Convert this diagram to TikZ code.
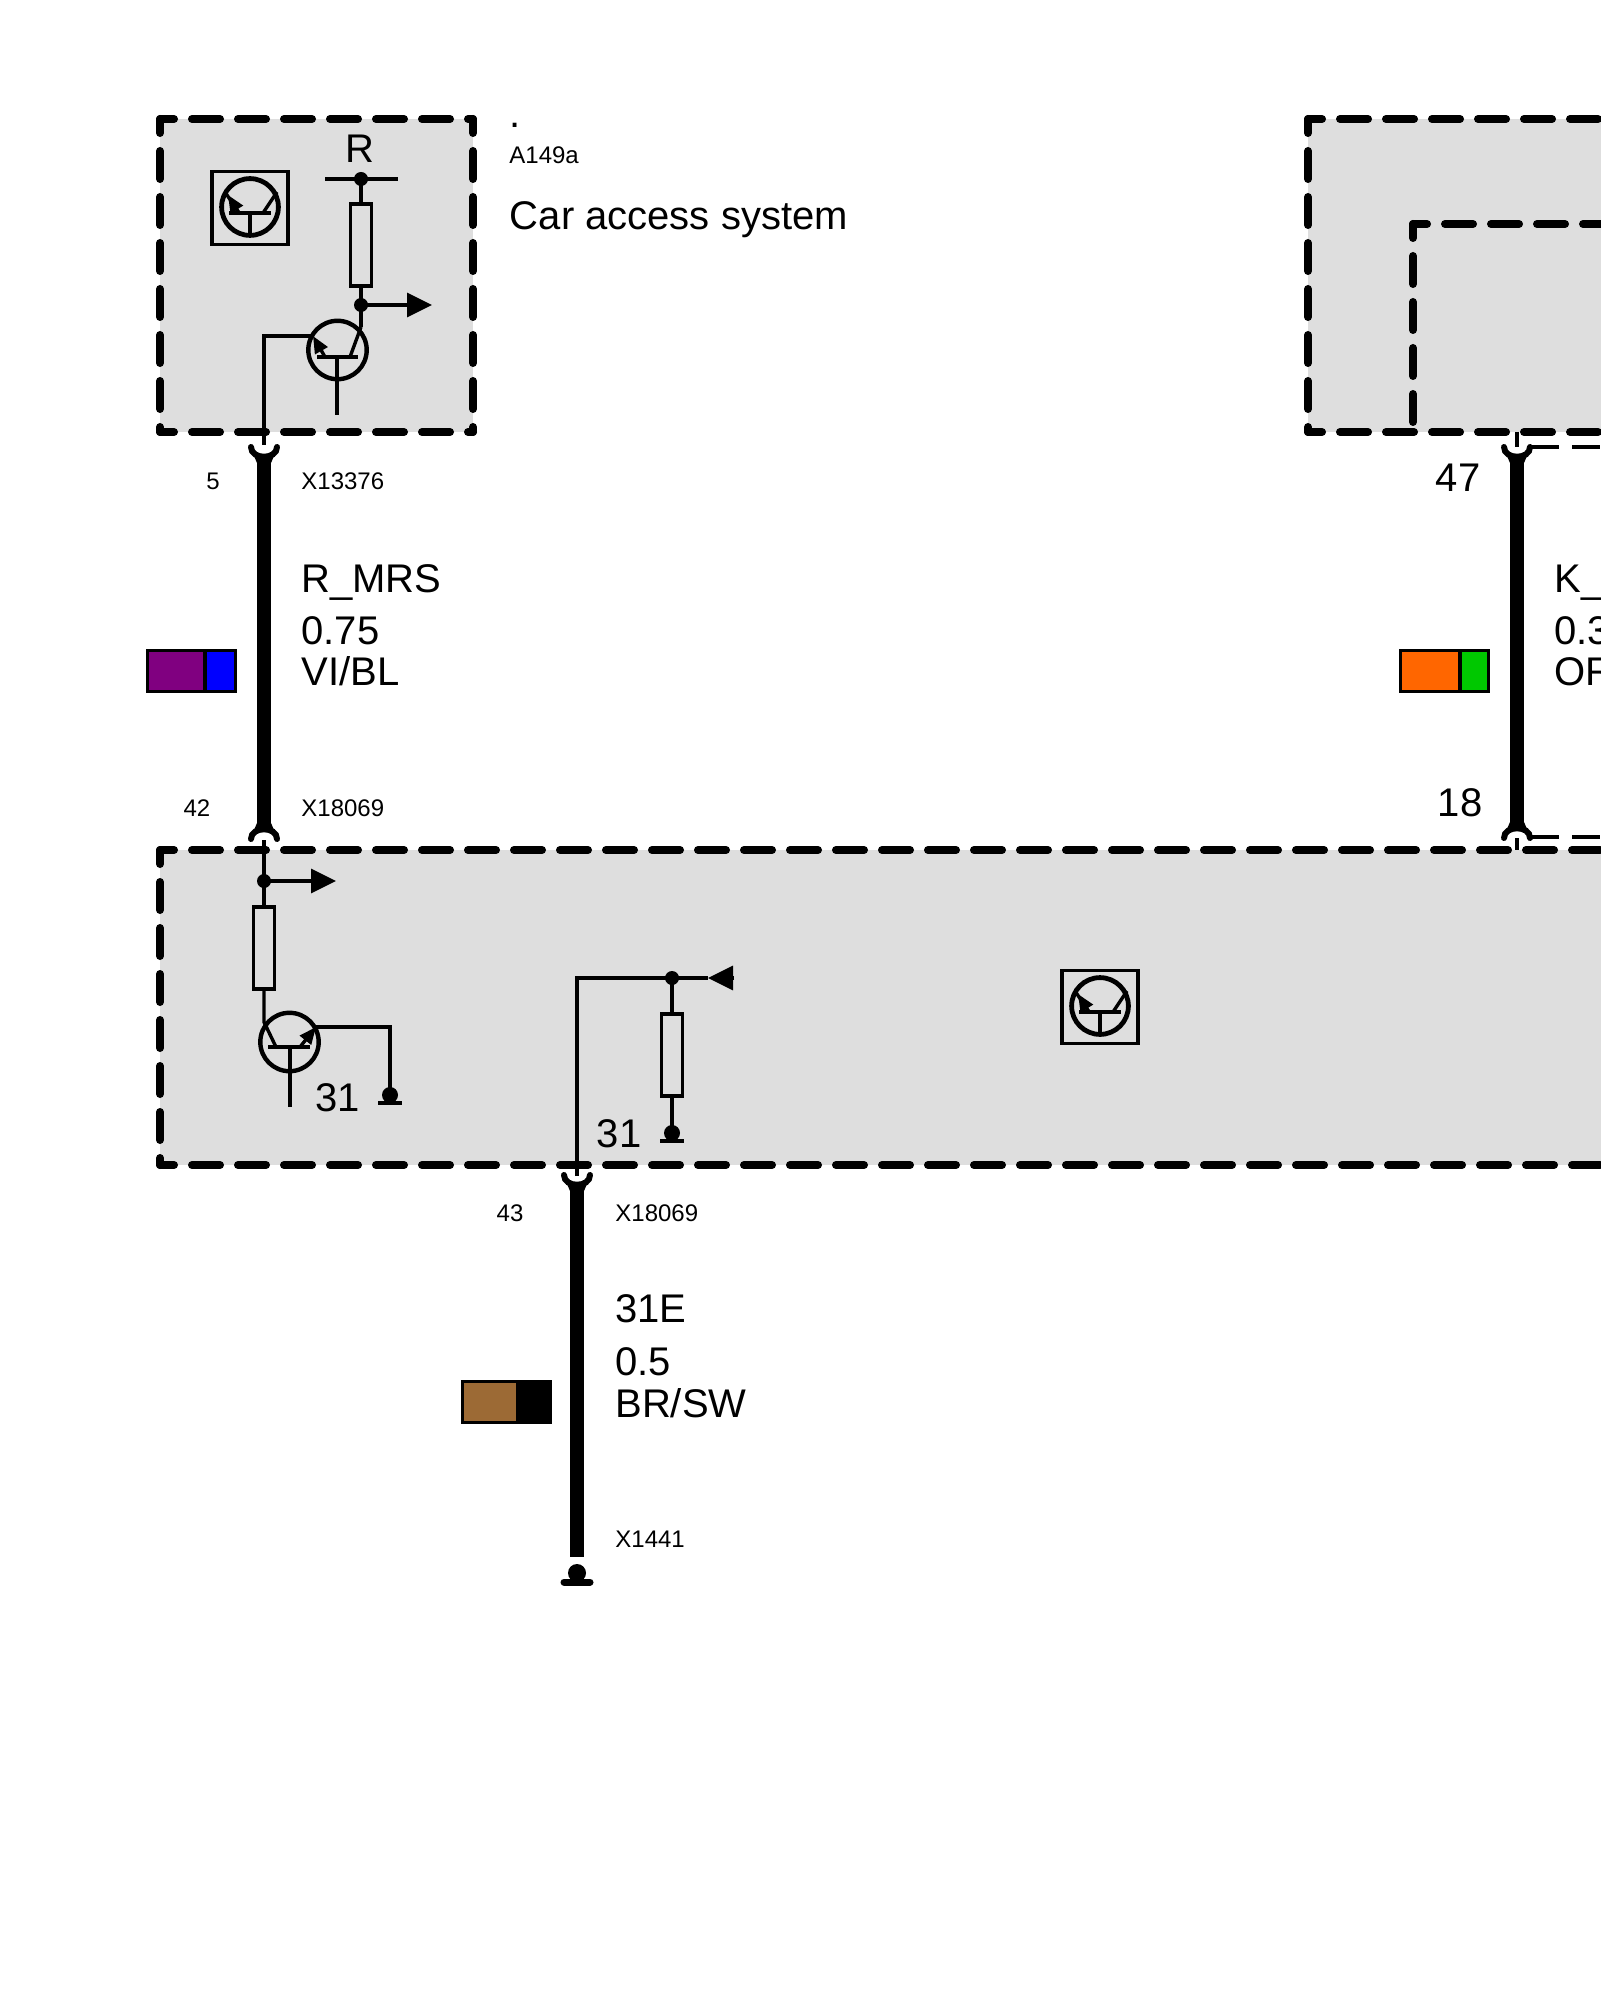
\documentclass[tikz,border=0pt]{standalone}
\usepackage{fontspec}
\setmainfont{Liberation Sans}
\usetikzlibrary{arrows.meta}
\definecolor{unitgray}{HTML}{DEDEDE}
\definecolor{wirevi}{HTML}{800080}
\definecolor{wirebl}{HTML}{0000FF}
\definecolor{wireor}{HTML}{FF6600}
\definecolor{wiregn}{HTML}{00C800}
\definecolor{wirebr}{HTML}{9C6A35}
\tikzset{
  unitline/.style={line width=4pt,line cap=round,dash pattern=on 14pt off 9pt,dash phase=7pt},
  wire/.style={line width=1.7pt},
  harness/.style={line width=7pt},
  cup/.style={line width=3pt,line cap=round},
  linkline/.style={line width=1.7pt,dash pattern=on 14pt off 6.5pt},
  resistor/.style={draw,fill=unitgray,line width=1.7pt,minimum width=10.5pt,minimum height=41pt,inner sep=0pt},
  jdot/.style={circle,fill=black,inner sep=0pt,minimum size=7pt},
  gdot/.style={circle,fill=black,inner sep=0pt,minimum size=8pt},
  swatch/.style={draw,line width=1.6pt,minimum height=20.5pt,inner sep=0pt},
  biglbl/.style={anchor=base west,inner sep=0pt,font=\fontsize{20}{24}\selectfont},
  pinlbl/.style={anchor=base west,inner sep=0pt,font=\fontsize{12}{14}\selectfont},
  numlbl/.style={anchor=base,inner sep=0pt,font=\fontsize{12}{14}\selectfont},
  bignum/.style={anchor=base,inner sep=0pt,font=\fontsize{20}{24}\selectfont},
  bigtip/.style={-{Triangle[length=12.5pt,width=12pt]}},
  smalltip/.style={-{Triangle[length=8.5pt,width=7pt]}}
}
\begin{document}
\begin{tikzpicture}[x=0.5pt,y=-0.5pt]
  \useasboundingbox (0,0) rectangle (1600,2000);

  % units
  \fill[unitgray] (160,119) rectangle (473,432);
  \fill[unitgray] (1308,119) rectangle (1620,432);
  \fill[unitgray] (160,850) rectangle (1620,1165);
  \draw[unitline] (160,119) -- (473,119);
  \draw[unitline] (160,119) -- (160,432);
  \draw[unitline] (473,119) -- (473,432);
  \draw[unitline] (160,432) -- (473,432);
  \draw[unitline] (1308,119) -- (1620,119);
  \draw[unitline] (1308,119) -- (1308,432);
  \draw[unitline] (1308,432) -- (1620,432);
  \draw[unitline] (1413,224) -- (1620,224);
  \draw[unitline] (1413,224) -- (1413,432);
  \draw[unitline] (160,850) -- (1620,850);
  \draw[unitline] (160,850) -- (160,1165);
  \draw[unitline] (160,1165) -- (1620,1165);

  % transistor icons
  \foreach \ix/\iy in {250/208,1100/1007} {
    \begin{scope}[shift={(\ix,\iy)}]
      \draw[line width=1.7pt] (-38,-36.5) rectangle (38,36.5);
      \draw[line width=2.4pt] (0,-1) circle[radius=14.2pt];
      \draw[wire] (-21,5) -- (21,5) (0,5) -- (0,29);
      \draw[wire] (-25,-16) -- (-11,5) (27,-16) -- (13,5);
      \draw[wire,smalltip] (-11,5) -- (-22,-13);
    \end{scope}
  }

  % car access system
  \coordinate (busl) at (325,179);
  \coordinate (busr) at (398,179);
  \node[jdot] (busdot) at (361,179) {};
  \node[resistor] (rcas) at (361,245) {};
  \node[jdot] (casdot) at (361,305) {};
  \coordinate (castip) at (432,305);
  \coordinate (cascoll) at (361,327);
  \coordinate (casbar) at (337,357);
  \coordinate (casemit) at (313,336);
  \coordinate (casturn) at (264,336);
  \coordinate (pinfive) at (264,445);
  \draw[wire] (busl) -- (busr);
  \draw[wire] (busdot.center) -- (rcas.north);
  \draw[wire] (rcas.south) -- (casdot.center) -- (cascoll);
  \draw[wire,bigtip] (casdot.center) -- (castip);
  \draw[line width=2.2pt] (337.5,350) circle[radius=14.6pt];
  \draw[wire] (317,357) -- (358,357) (casbar) -- (337,415);
  \draw[wire] (cascoll) -- (350,357);
  \draw[wire,smalltip] (325,357) -- (casemit);
  \draw[wire] (casemit) -- (casturn) -- (pinfive);

  % connector cups
  \foreach \px/\py in {264/447,577/1175,1517/447} {
    \begin{scope}[shift={(\px,\py)}]
      \draw[cup] (-13,0) .. controls (-13,13) and (13,13) .. (13,0);
      \fill (-10,9) -- (10,9) -- (7,16) -- (-7,16) -- cycle;
    \end{scope}
  }
  \foreach \px/\py in {264/839,1517/838} {
    \begin{scope}[shift={(\px,\py)}]
      \draw[cup] (-13,0) .. controls (-13,-13) and (13,-13) .. (13,0);
      \fill (-10,-9) -- (10,-9) -- (7,-16) -- (-7,-16) -- cycle;
    \end{scope}
  }

  % wire R_MRS
  \coordinate (mrstop) at (264,460);
  \coordinate (mrsbot) at (264,825);
  \draw[harness] (mrstop) -- (mrsbot);

  % lower unit, left branch
  \coordinate (pinftwo) at (264,840);
  \node[jdot] (mrsdot) at (264,881) {};
  \coordinate (mrstip) at (336,881);
  \node[resistor] (rlow) at (264,948) {};
  \coordinate (lowcoll) at (264,1022);
  \coordinate (lowemit) at (316,1027);
  \coordinate (lowturn) at (390,1027);
  \node[gdot] (gndone) at (390,1095) {};
  \draw[wire] (pinftwo) -- (mrsdot.center) -- (rlow.north);
  \draw[wire,bigtip] (mrsdot.center) -- (mrstip);
  \draw[wire] (rlow.south) -- (lowcoll) -- (276,1047);
  \draw[line width=2.2pt] (289.5,1042) circle[radius=14.6pt];
  \draw[wire] (268,1047) -- (310,1047) (290,1047) -- (290,1107);
  \draw[wire,smalltip] (300,1047) -- (lowemit);
  \draw[wire] (lowemit) -- (lowturn) -- (gndone.center);
  \draw[line width=2.2pt] (378,1103) -- (402,1103);
  \node[bignum] (numone) at (337.5,1111) {31};

  % lower unit, right branch
  \coordinate (turnlow) at (577,978);
  \coordinate (pinfthree) at (577,1176);
  \node[jdot] (lowdot) at (672,978) {};
  \coordinate (inbase) at (734,978);
  \coordinate (intip) at (708,978);
  \node[resistor] (rpull) at (672,1055) {};
  \node[gdot] (gndtwo) at (672,1133) {};
  \draw[wire] (pinfthree) -- (turnlow) -- (lowdot.center) -- (rpull.north);
  \draw[wire] (lowdot.center) -- (intip);
  \draw[wire,bigtip] (inbase) -- (intip);
  \draw[wire] (rpull.south) -- (gndtwo.center);
  \draw[line width=2.2pt] (660,1141) -- (684,1141);
  \node[bignum] (numtwo) at (619,1147) {31};

  % wire 31E
  \coordinate (gndtop) at (577,1557);
  \coordinate (etop) at (577,1188);
  \draw[harness] (etop) -- (gndtop);
  \node[circle,fill=black,inner sep=0pt,minimum size=9pt] (gndthree) at (577,1573) {};
  \draw[line width=3.5pt,line cap=round] (564,1582) -- (590,1582);

  % wire K_
  \coordinate (pinfseven) at (1517,447);
  \coordinate (pinfeight) at (1517,838);
  \coordinate (keytop) at (1517,460);
  \coordinate (keybot) at (1517,824);
  \draw[harness] (keytop) -- (keybot);
  \draw[wire] (1517,432) -- (pinfseven);
  \draw[wire] (pinfeight) -- (1517,850);
  \draw[linkline] (1531,447) -- (1620,447);
  \draw[linkline] (1531,837) -- (1620,837);

  % swatches
  \node[swatch,fill=wirevi,minimum width=28.75pt] (vi) at (176.25,671) {};
  \node[swatch,fill=wirebl,minimum width=15.25pt] (bl) at (220.25,671) {};
  \node[swatch,fill=wireor,minimum width=29.75pt] (or) at (1430.25,671) {};
  \node[swatch,fill=wiregn,minimum width=14.25pt] (gn) at (1474.25,671) {};
  \node[swatch,fill=wirebr,minimum width=27.75pt] (br) at (490.25,1402) {};
  \node[swatch,fill=black,minimum width=16.25pt] (sw) at (534.25,1402) {};

  % labels
  \node[biglbl] (dotlbl) at (509,128) {.};
  \node[pinlbl] (a149) at (509,164) {A149a};
  \node[biglbl] (casname) at (509.5,230) {Car access system};
  \node[bignum] (rlbl) at (360,163) {R};
  \node[numlbl] (pa) at (213,489) {5};
  \node[pinlbl] (xa) at (301,489) {X13376};
  \node[biglbl] (na) at (301,592) {R\_MRS};
  \node[biglbl] (sa) at (301,644) {0.75};
  \node[biglbl] (ca) at (301,685) {VI/BL};
  \node[numlbl] (pb) at (197,816) {42};
  \node[pinlbl] (xb) at (301,816) {X18069};
  \node[numlbl] (pc) at (510,1221) {43};
  \node[pinlbl] (xc) at (615,1221) {X18069};
  \node[biglbl] (nc) at (615,1322) {31E};
  \node[biglbl] (sc) at (615,1375) {0.5};
  \node[biglbl] (cc) at (615,1417) {BR/SW};
  \node[pinlbl] (xd) at (615,1547) {X1441};
  \node[bignum] (pe) at (1458,491) {47};
  \node[bignum] (pf) at (1460,816) {18};
  \node[biglbl] (ne) at (1554,592) {K\_};
  \node[biglbl] (se) at (1554,644) {0.3};
  \node[biglbl] (ce) at (1554,685) {OR};
\end{tikzpicture}
\end{document}
